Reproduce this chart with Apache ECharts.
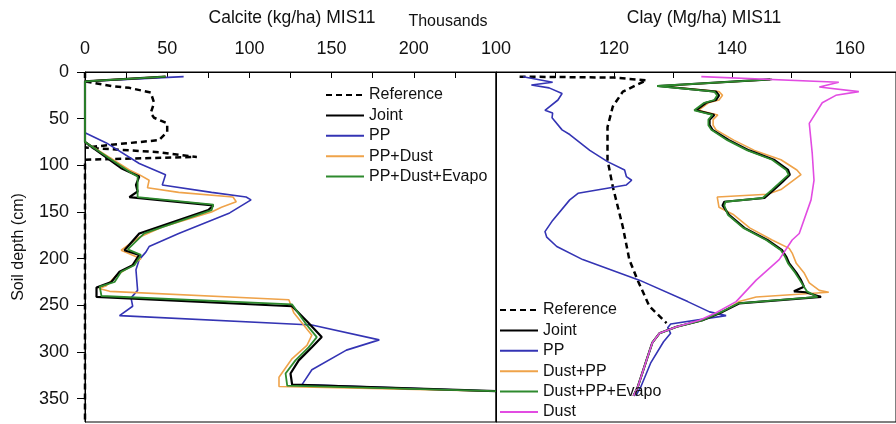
<!DOCTYPE html>
<html>
<head>
<meta charset="utf-8">
<script src="https://cdn.jsdelivr.net/npm/echarts@6/dist/echarts.min.js"></script>
<style>
  html, body { margin: 0; padding: 0; background: #fff; }
  #chart { width: 896px; height: 424px; }
</style>
</head>
<body>
<div id="chart"></div>
<script>
// ---- Calcite (thousand kg/ha) vs. soil depth (cm), MIS11 ----
const calciteRefDepth = [0, 10, 15, 17, 22, 33, 44, 49, 55, 64, 73, 78, 81, 86, 91, 94, 375];
const calciteRef      = [0, 0, 16, 27, 40, 42, 40, 42, 50, 50, 45, 16, 0, 45, 68, 0, 0];

const calcitePPDepth = [5, 10, 65, 76, 98, 110, 121, 129, 134, 137, 151, 173, 187, 193, 201, 212, 234, 242, 251, 261, 271, 287, 298, 319, 335, 342];
const calcitePP      = [60, 0, 0, 13, 33, 49, 47, 77, 98, 101, 88, 57, 39, 37, 33, 31, 32, 28, 29, 21, 138, 179, 159, 138, 132, 250];

const calciteJointDepth = [5, 10, 75, 103, 112, 121, 128, 134, 136, 143, 148, 173, 191, 196, 207, 214, 225, 231, 241, 251, 269, 284, 295, 309, 323, 335, 342];
const calciteJoint      = [49, 0, 0, 22, 33, 31, 32, 27, 28, 78, 75, 33, 24, 33, 29, 21, 16, 7, 7, 126, 136, 144, 138, 130, 125, 126, 250];

const calcitePPDustDepth = [5, 10, 75, 105, 110, 116, 124, 129, 134, 139, 145, 150, 166, 177, 191, 200, 209, 218, 229, 232, 235, 244, 258, 282, 293, 307, 327, 337, 342];
const calcitePPDust      = [49, 0, 0, 27, 33, 39, 38, 57, 90, 92, 83, 77, 47, 33, 22, 34, 27, 19, 13, 8.5, 15, 124, 127, 138, 135, 126, 118, 118, 250];

const calciteEvapoDepth = [5, 10, 75, 107, 112, 124, 134, 136, 142, 148, 173, 190, 196, 207, 214, 225, 230, 240, 249, 269, 284, 295, 309, 323, 336, 342];
const calciteEvapo      = [49, 0, 0, 27, 32, 32, 32, 33, 78, 77, 36, 26, 34, 30, 22, 18, 9, 10, 126, 134, 141, 136, 128, 122, 123, 250];

// ---- Clay (Mg/ha) vs. soil depth (cm), MIS11 ----
const clayRefDepth = [5, 6, 9, 14, 21, 37, 59, 94, 123, 166, 201, 223, 251, 269];
const clayRef      = [104, 120, 125.5, 123.8, 121.5, 119.8, 118.9, 118.9, 119.8, 121.5, 122.6, 124, 126, 128.9];

const clayPPDepth = [5, 11, 14, 17, 23, 30, 41, 44, 49, 62, 67, 84, 96, 105, 112, 116, 121, 130, 137, 159, 171, 177, 187, 201, 223, 246, 257, 261, 270, 274, 280, 289, 312, 338, 347];
const clayPP      = [104.6, 109.6, 106, 109, 111.2, 110.5, 108.3, 109.6, 109.5, 111.2, 112.5, 115.9, 118.9, 121.8, 122.1, 123, 122.1, 113.9, 112.5, 109.6, 108.3, 108.6, 110.3, 114.7, 124.3, 132.5, 136.2, 139, 129.6, 129.1, 129.6, 128.4, 126.2, 124.5, 123.7];

const clayJointDepth = [8, 15, 21, 25, 30, 33, 41, 43, 46, 51, 57, 62, 73, 84, 94, 105, 110, 118, 126, 135, 139, 143, 153, 167, 180, 191, 198, 205, 215, 223, 230, 235, 236, 241, 248, 257, 266, 273, 280, 290, 309, 338, 347];
const clayJoint      = [146.5, 127.5, 137.3, 137.8, 137.3, 135.6, 133.9, 133.6, 137, 136.2, 136.2, 136.7, 139.5, 142.9, 147.1, 149.5, 149.8, 148.5, 147.1, 145.5, 138.7, 138.4, 139.5, 142.1, 146, 148.5, 149.2, 149.7, 150.9, 151.7, 152.2, 150.5, 152.5, 155.1, 141.2, 138.4, 135, 130.6, 127.7, 126.5, 125.5, 124, 123.3];

const clayEvapoDepth = clayJointDepth;
const clayEvapo      = [146.8, 127.3, 137, 137.5, 137, 135.3, 133.6, 133.3, 136.7, 136, 136, 136.5, 139.2, 142.6, 146.8, 149.2, 149.6, 148.2, 146.8, 145.2, 138.9, 138.7, 139.3, 141.9, 145.8, 148.3, 149, 149.5, 150.7, 151.5, 152.2, 152.7, 152.8, 154.5, 141, 138.2, 135, 130.6, 127.7, 126.5, 125.5, 124, 123.3];

const clayDustPPDepth = [8, 15, 21, 25, 30, 33, 41, 43, 46, 51, 57, 62, 73, 84, 94, 105, 110, 118, 126, 131, 134, 145, 153, 167, 180, 189, 194, 205, 215, 226, 234, 236, 241, 246, 257, 266, 273, 280, 290, 309, 338, 347];
const clayDustPP      = [146.5, 128, 137.8, 138.4, 137.8, 136, 134.3, 134, 137.6, 136.8, 136.8, 137.3, 140.3, 143.8, 148.3, 151, 151.7, 150, 148.3, 146, 137.5, 137.8, 140.3, 143, 146.8, 149.7, 150.2, 150.9, 152.2, 153.1, 154.8, 156.4, 144.1, 141.2, 138.4, 135, 130.6, 127.7, 126.5, 125.5, 124, 123.3];

const clayDustDepth = [5, 11, 16, 21, 25, 33, 55, 87, 116, 137, 173, 180, 201, 223, 246, 258, 266, 273, 280, 290, 309, 338, 347];
const clayDust      = [134.8, 158.1, 154.8, 161.5, 157.6, 155.3, 153.1, 153.6, 153.9, 153.4, 151.4, 150.2, 148, 144.1, 140.7, 137.3, 134.5, 130.6, 127.7, 126.5, 125.5, 124, 123.3];

// Axis tick settings
const calciteTicks = { min: 0, max: 250, step: 50 };
const clayTicks = { min: 100, max: 167.8, step: 20 };
const depthTicks = { min: 0, max: 375, step: 50 };

const FONT = "'Liberation Sans', Arial, sans-serif";
const COLORS = {
  ref: '#000000', joint: '#000000', pp: '#3434b4',
  ppdust: '#efa34a', evapo: '#2e8a2e', dust: '#e24ce2'
};

function pairs(values, depths) {
  return values.map((v, i) => [v, depths[i]]);
}

function profile(name, values, depths, color, width, panel, dashed) {
  return {
    name: name,
    type: 'line',
    xAxisIndex: panel,
    yAxisIndex: panel,
    data: pairs(values, depths),
    symbol: 'none',
    smooth: false,
    animation: false,
    lineStyle: { color: color, width: width, type: dashed ? [6, 4] : 'solid' },
    itemStyle: { color: color }
  };
}

function topAxis(grid, t, showMin, showMax) {
  return {
    type: 'value', gridIndex: grid, position: 'top',
    min: t.min, max: t.max, interval: t.step,
    axisLine: { show: true, lineStyle: { color: '#000', width: 1 } },
    axisTick: { show: true, inside: true, length: 6, lineStyle: { color: '#000' } },
    minorTick: { show: true, splitNumber: 2, length: 6, lineStyle: { color: '#000' } },
    axisLabel: { show: true, fontSize: 18, color: '#111', fontFamily: FONT, margin: 14,
                 showMinLabel: showMin, showMaxLabel: showMax },
    splitLine: { show: false }
  };
}

// Legend entries show only the line stroke, no marker
function legendBox(left, top, names) {
  return {
    orient: 'vertical', left: left, top: top, padding: 0,
    height: 140,
    itemWidth: 38, itemHeight: 14, itemGap: 4.4,
    itemStyle: { opacity: 0, borderWidth: 0 },
    textStyle: { fontSize: 16, lineHeight: 16, color: '#111', fontFamily: FONT },
    data: names
  };
}

const chart = echarts.init(document.getElementById('chart'), null, { renderer: 'canvas' });

chart.setOption({
  backgroundColor: '#fff',
  animation: false,
  textStyle: { fontFamily: FONT },
  grid: [
    { left: 85, top: 72, width: 411, height: 350, show: true, borderColor: '#000', borderWidth: 1 },
    { left: 496, top: 72, width: 401, height: 350, show: true, borderColor: '#000', borderWidth: 1 }
  ],
  xAxis: [
    topAxis(0, calciteTicks, true, false),
    topAxis(1, clayTicks, true, false)
  ],
  yAxis: [
    {
      type: 'value', gridIndex: 0, inverse: true,
      min: depthTicks.min, max: depthTicks.max, interval: depthTicks.step,
      axisLine: { show: true, lineStyle: { color: '#000', width: 1 } },
      axisTick: { show: true, inside: false, length: 8, lineStyle: { color: '#000' } },
      axisLabel: { show: true, fontSize: 18, color: '#111', fontFamily: FONT, margin: 16, showMaxLabel: false },
      splitLine: { show: false },
      name: 'Soil depth (cm)', nameLocation: 'middle', nameGap: 58,
      nameTextStyle: { fontSize: 16, color: '#111', fontFamily: FONT }
    },
    {
      type: 'value', gridIndex: 1, inverse: true,
      min: depthTicks.min, max: depthTicks.max, interval: depthTicks.step,
      axisLine: { show: true, lineStyle: { color: '#000', width: 1 } },
      axisTick: { show: false }, axisLabel: { show: false }, splitLine: { show: false }
    }
  ],
  legend: [
    legendBox(325, 87, ['Reference', 'Joint', 'PP', 'PP+Dust', 'PP+Dust+Evapo']),
    legendBox(499, 302, ['Reference', 'Joint', 'PP', 'Dust+PP', 'Dust+PP+Evapo', 'Dust'])
  ],
  graphic: [
    { type: 'text', x: 292, y: 18, style: { text: 'Calcite (kg/ha) MIS11', fill: '#111', font: '17.5px ' + FONT, textAlign: 'center', textVerticalAlign: 'middle' } },
    { type: 'text', x: 448, y: 22, style: { text: 'Thousands', fill: '#111', font: '16px ' + FONT, textAlign: 'center', textVerticalAlign: 'middle' } },
    { type: 'text', x: 704, y: 18, style: { text: 'Clay (Mg/ha) MIS11', fill: '#111', font: '17.5px ' + FONT, textAlign: 'center', textVerticalAlign: 'middle' } }
  ],
  series: [
    profile('Reference', calciteRef, calciteRefDepth, COLORS.ref, 2.5, 0, true),
    profile('PP', calcitePP, calcitePPDepth, COLORS.pp, 1.6, 0),
    profile('PP+Dust', calcitePPDust, calcitePPDustDepth, COLORS.ppdust, 1.6, 0),
    profile('Joint', calciteJoint, calciteJointDepth, COLORS.joint, 2.2, 0),
    profile('PP+Dust+Evapo', calciteEvapo, calciteEvapoDepth, COLORS.evapo, 1.8, 0),

    profile('Reference', clayRef, clayRefDepth, COLORS.ref, 2.5, 1, true),
    profile('PP', clayPP, clayPPDepth, COLORS.pp, 1.6, 1),
    profile('Dust+PP', clayDustPP, clayDustPPDepth, COLORS.ppdust, 1.6, 1),
    profile('Joint', clayJoint, clayJointDepth, COLORS.joint, 2.2, 1),
    profile('Dust+PP+Evapo', clayEvapo, clayEvapoDepth, COLORS.evapo, 1.8, 1),
    profile('Dust', clayDust, clayDustDepth, COLORS.dust, 1.6, 1)
  ]
});
</script>
</body>
</html>
